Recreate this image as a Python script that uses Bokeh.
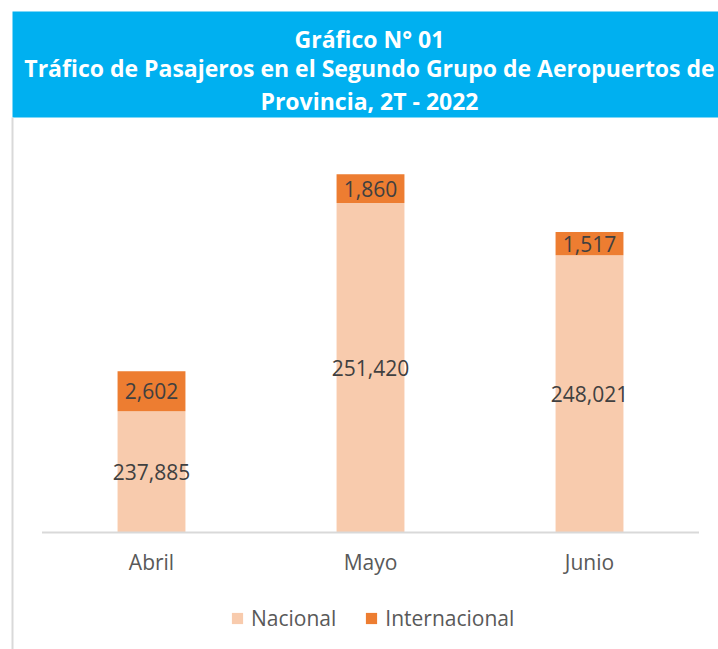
from bokeh.plotting import figure
from bokeh.models import Range1d, ColumnDataSource, Legend, LegendItem, BoxAnnotation, Label
from bokeh.embed import file_html
from bokeh.resources import INLINE
from bokeh.core.properties import value

# ---- data ----
months = ["Abril", "Mayo", "Junio"]
nacional = [237885, 251420, 248021]
internacional = [2602, 1860, 1517]
series = ["Nacional", "Internacional"]
title_lines = [
    "Gráfico N° 01",
    "Tráfico de Pasajeros en el Segundo Grupo de Aeropuertos de",
    "Provincia, 2T - 2022",
]
colors = ["#F8CBAD", "#ED7D31"]
y_start = 230000          # value axis starts here (baseline)

FONT = "Open Sans"
idx = list(range(len(months)))
n = len(months)

src = ColumnDataSource(dict(
    x=idx,
    month=months,
    base=[y_start] * n,
    nac=nacional,
    tot=[a + b for a, b in zip(nacional, internacional)],
    nac_y=[(y_start + a) / 2 for a in nacional],
    int_y=[a + b / 2 for a, b in zip(nacional, internacional)],
    nac_lbl=[f"{a:,}" for a in nacional],
    int_lbl=[f"{b:,}" for b in internacional],
))

W, H = 718, 649
# frame covers the whole canvas; value range chosen so baseline sits at 230,000
p = figure(width=W, height=H,
           x_range=Range1d(-0.6895, 2.589), y_range=Range1d(222395, 264580),
           output_backend="svg", toolbar_location=None,
           x_axis_location=None, y_axis_location=None,
           min_border_left=0, min_border_right=0, min_border_top=0, min_border_bottom=0,
           outline_line_color=None, border_fill_color="white", background_fill_color="white")
p.grid.visible = False

# banner and left border (canvas units)
p.add_layout(BoxAnnotation(left=12, right=W, top=11, bottom=117,
                           left_units="canvas", right_units="canvas",
                           top_units="canvas", bottom_units="canvas",
                           fill_color="#00B0F0", fill_alpha=1, line_color=None, level="underlay"))
p.add_layout(BoxAnnotation(left=11, right=13, top=117, bottom=H,
                           left_units="canvas", right_units="canvas",
                           top_units="canvas", bottom_units="canvas",
                           fill_color="#D9D9D9", fill_alpha=1, line_color=None, level="underlay"))
for txt, yy in zip(title_lines, [38, 67, 100]):
    p.add_layout(Label(x=369, y=yy, x_units="canvas", y_units="canvas", text=txt,
                       text_align="center", text_baseline="alphabetic", text_color="white",
                       text_font=FONT, text_font_style="bold", text_font_size="23px"))

# bars
r_nac = p.vbar(x="x", bottom="base", top="nac", width=0.31, color=colors[0], line_color=None, source=src)
r_int = p.vbar(x="x", bottom="nac", top="tot", width=0.31, color=colors[1], line_color=None, source=src)

# baseline (category axis line)
p.segment(x0=[idx[0] - 0.5], x1=[idx[-1] + 0.5], y0=[y_start], y1=[y_start],
          line_color="#D9D9D9", line_width=2)

# category labels
p.text(x="x", y="base", text="month", source=src, y_offset=29, text_align="center",
       text_baseline="middle", text_color="#595959", text_font=value(FONT),
       text_font_size="21px")

# data labels
for yf, lf_ in (("nac_y", "nac_lbl"), ("int_y", "int_lbl")):
    p.text(x="x", y=yf, text=lf_, source=src, text_align="center",
           text_baseline="middle", text_color="#404040", text_font=value(FONT),
           text_font_size="21px")

legend = Legend(items=[LegendItem(label=s, renderers=[r]) for s, r in zip(series, [r_nac, r_int])],
                orientation="horizontal", location=(230, 17),
                border_line_color=None, background_fill_alpha=0,
                label_text_font=FONT, label_text_font_size="21px",
                label_text_color="#595959", glyph_width=14, glyph_height=14,
                label_standoff=7, spacing=28, margin=0, padding=0)
p.add_layout(legend)

open("out.html", "w").write(file_html(p, INLINE))
